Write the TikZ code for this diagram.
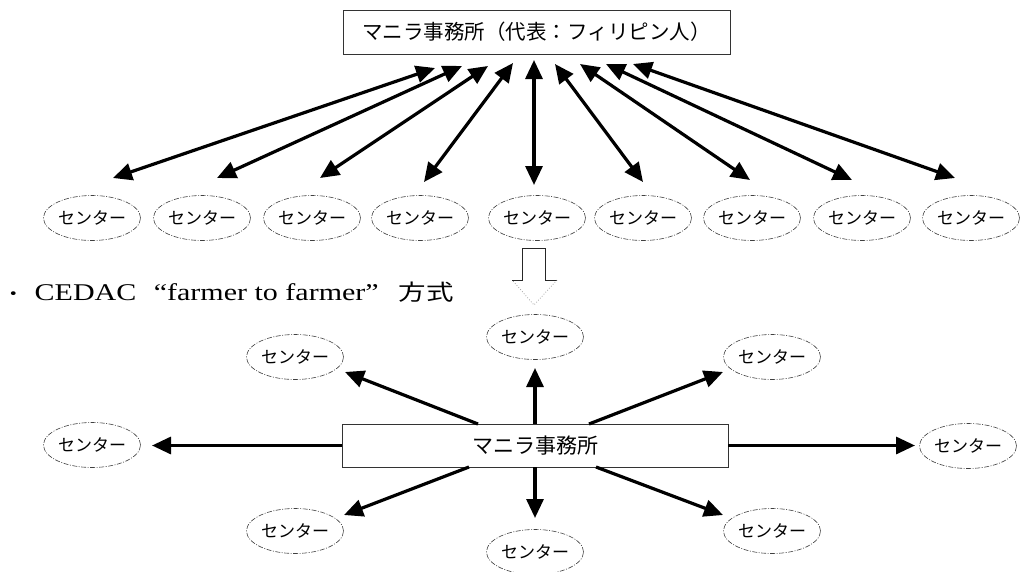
\documentclass[tikz,border=0pt]{standalone}
\usepackage{fontspec}
\setmainfont{Liberation Serif}
\newfontfamily\cjk{Noto Sans CJK JP}
\usetikzlibrary{arrows.meta,shapes.geometric}
\tikzset{
  ctr/.style={ellipse, draw=black!75, line width=0.6pt, dash pattern=on 5pt off 1.5pt on 1pt off 1.5pt,
    minimum width=97pt, minimum height=45pt, inner sep=0pt, font=\cjk\fontsize{17}{17}\selectfont},
  office/.style={rectangle, draw=black!80, line width=0.8pt, inner sep=0pt},
  arr/.style={line width=3.2pt, -{Triangle[length=19pt,width=17pt]}},
  darr/.style={line width=3.2pt, {Triangle[length=19pt,width=17pt]}-{Triangle[length=19pt,width=17pt]}},
}
\begin{document}
\begin{tikzpicture}[x=1pt,y=-1pt]
\useasboundingbox (0,0) rectangle (1021,571);
\fill[white] (0,0) rectangle (1021,571);
% top office
\node[office, minimum width=387pt, minimum height=44pt, font=\cjk\fontsize{20.5}{20.5}\selectfont] (top) at (536.5,32) {マニラ事務所（代表：フィリピン人）};
% top row centers
\foreach \i/\x in {1/92,2/202,3/312,4/420,5/537,6/643,7/752,8/862,9/971}{
  \node[ctr] (c\i) at (\x,218) {センター};
}
% arrow end coordinates
\coordinate (t1) at (435,68);  \coordinate (b1) at (113,178);
\coordinate (t2) at (462,66);  \coordinate (b2) at (217,178);
\coordinate (t3) at (488,66);  \coordinate (b3) at (320,178);
\coordinate (t4) at (513,63);  \coordinate (b4) at (424,182);
\coordinate (t5) at (534,60);  \coordinate (b5) at (534,185);
\coordinate (t6) at (555,64);  \coordinate (b6) at (643,182);
\coordinate (t7) at (580,64);  \coordinate (b7) at (750,180);
\coordinate (t8) at (606,64);  \coordinate (b8) at (852,180);
\coordinate (t9) at (633,64);  \coordinate (b9) at (955,178);
\foreach \i in {1,...,9}{ \draw[darr] (t\i) -- (b\i); }
% hollow transition arrow
\draw[black!85, line width=0.7pt] (512,280) -- (522,280) -- (522,248) -- (545,248) -- (545,280) -- (557,280);
\draw[black!45, line width=0.7pt, dotted] (557,280) -- (534,305) -- (512,280);
% caption
\node[anchor=base west, inner sep=0pt, font=\fontsize{24}{24}\selectfont] (cap) at (2,300)
  {\scalebox{1.25}[1]{{\cjk\fontsize{18}{18}\selectfont ・}\hspace{8pt}CEDAC\hspace{14pt}“farmer to farmer”\hspace{16pt}{\cjk\fontsize{22}{22}\selectfont 方式}}};
% lower office
\node[office, minimum width=386pt, minimum height=43pt, font=\cjk\fontsize{21}{21}\selectfont] (mb) at (535,445.5) {マニラ事務所};
\node[ctr] (u)  at (535,337) {センター};
\node[ctr] (ul) at (295,357) {センター};
\node[ctr] (ur) at (772,357) {センター};
\node[ctr] (l)  at (92,445) {センター};
\node[ctr] (r)  at (968,446) {センター};
\node[ctr] (ll) at (295,531) {センター};
\node[ctr] (lr) at (772,531) {センター};
\node[ctr] (d)  at (535,552) {センター};
\coordinate (su)  at (535,424);  \coordinate (eu)  at (535,368);
\coordinate (sul) at (478,424);  \coordinate (eul) at (345,372);
\coordinate (sur) at (589,424);  \coordinate (eur) at (723,372);
\coordinate (sl)  at (mb.west);  \coordinate (el)  at (152,445.5);
\coordinate (sr)  at (mb.east);  \coordinate (er)  at (915,445.5);
\coordinate (sll) at (469,467);  \coordinate (ell) at (344,515);
\coordinate (slr) at (596,467);  \coordinate (elr) at (723,515);
\coordinate (sd)  at (535,467);  \coordinate (ed)  at (535,518);
\foreach \s/\e in {su/eu,sul/eul,sur/eur,sl/el,sr/er,sll/ell,slr/elr,sd/ed}{
  \draw[arr] (\s) -- (\e);
}
\end{tikzpicture}
\end{document}
